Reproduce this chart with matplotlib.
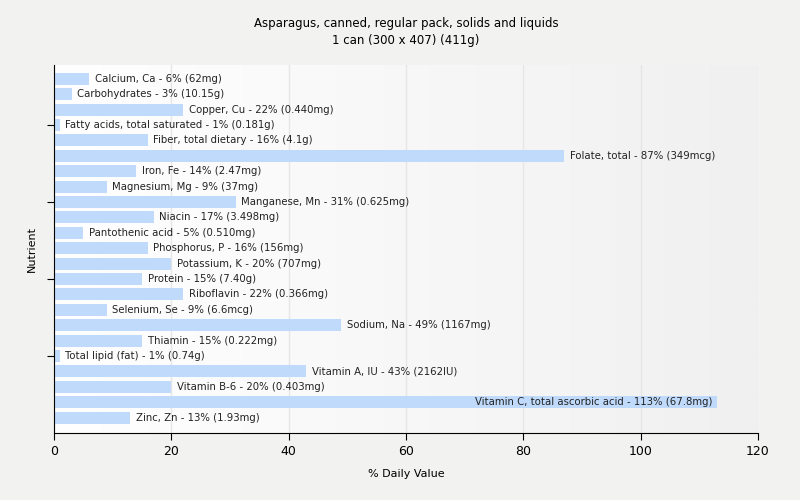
import numpy as np
import matplotlib.pyplot as plt

nutrients = ['Calcium, Ca', 'Carbohydrates', 'Copper, Cu', 'Fatty acids, total saturated',
             'Fiber, total dietary', 'Folate, total', 'Iron, Fe', 'Magnesium, Mg',
             'Manganese, Mn', 'Niacin', 'Pantothenic acid', 'Phosphorus, P',
             'Potassium, K', 'Protein', 'Riboflavin', 'Selenium, Se', 'Sodium, Na',
             'Thiamin', 'Total lipid (fat)', 'Vitamin A, IU', 'Vitamin B-6',
             'Vitamin C, total ascorbic acid', 'Zinc, Zn']
pct = [6, 3, 22, 1, 16, 87, 14, 9, 31, 17, 5, 16, 20, 15, 22, 9, 49, 15, 1, 43, 20, 113, 13]
amounts = ['62mg', '10.15g', '0.440mg', '0.181g', '4.1g', '349mcg', '2.47mg', '37mg',
           '0.625mg', '3.498mg', '0.510mg', '156mg', '707mg', '7.40g', '0.366mg', '6.6mcg',
           '1167mg', '0.222mg', '0.74g', '2162IU', '0.403mg', '67.8mg', '1.93mg']

fig = plt.figure(figsize=(8, 5), dpi=100, facecolor='#f2f2f1')
ax = fig.add_axes([0.0675, 0.134, 0.88, 0.736])

# light gradient background
grad = np.linspace(0, 1, 256).reshape(1, -1)
ax.imshow(grad, cmap=plt.matplotlib.colors.LinearSegmentedColormap.from_list('g', ['#ffffff', '#f0f0f0']),
          extent=[0, 1, 0, 1], transform=ax.transAxes, aspect='auto', zorder=0)

y = np.arange(len(nutrients))
ax.barh(y, pct, height=0.78, color='#bfdafb', zorder=2)

for i in range(len(nutrients)):
    label = '%s - %d%% (%s)' % (nutrients[i], pct[i], amounts[i])
    if pct[i] > 100:
        ax.annotate(label, (pct[i], i), xytext=(-3, 0), textcoords='offset points',
                    ha='right', va='center', fontsize=7.3, color='#222222', zorder=3)
    else:
        ax.annotate(label, (pct[i], i), xytext=(4, 0), textcoords='offset points',
                    ha='left', va='center', fontsize=7.3, color='#222222', zorder=3)

ax.set_xlim(0, 120)
ax.set_ylim(23.0, -0.9)
ax.set_xticks([0, 20, 40, 60, 80, 100, 120])
ax.set_yticks([3, 8, 13, 18])
ax.set_yticklabels([])
ax.tick_params(axis='x', labelsize=9, length=5)
ax.tick_params(axis='y', length=5)
ax.grid(axis='x', color='#e6e6e6', linewidth=1, zorder=1)
ax.set_axisbelow(True)
for s in ['top', 'right']:
    ax.spines[s].set_visible(False)

ax.set_xlabel('% Daily Value', fontsize=8, labelpad=8)
ax.set_ylabel('Nutrient', fontsize=8)
ax.set_title('Asparagus, canned, regular pack, solids and liquids\n1 can (300 x 407) (411g)',
             fontsize=8.5, pad=15, linespacing=1.45)

fig.savefig('out.png', dpi=100, facecolor=fig.get_facecolor())
